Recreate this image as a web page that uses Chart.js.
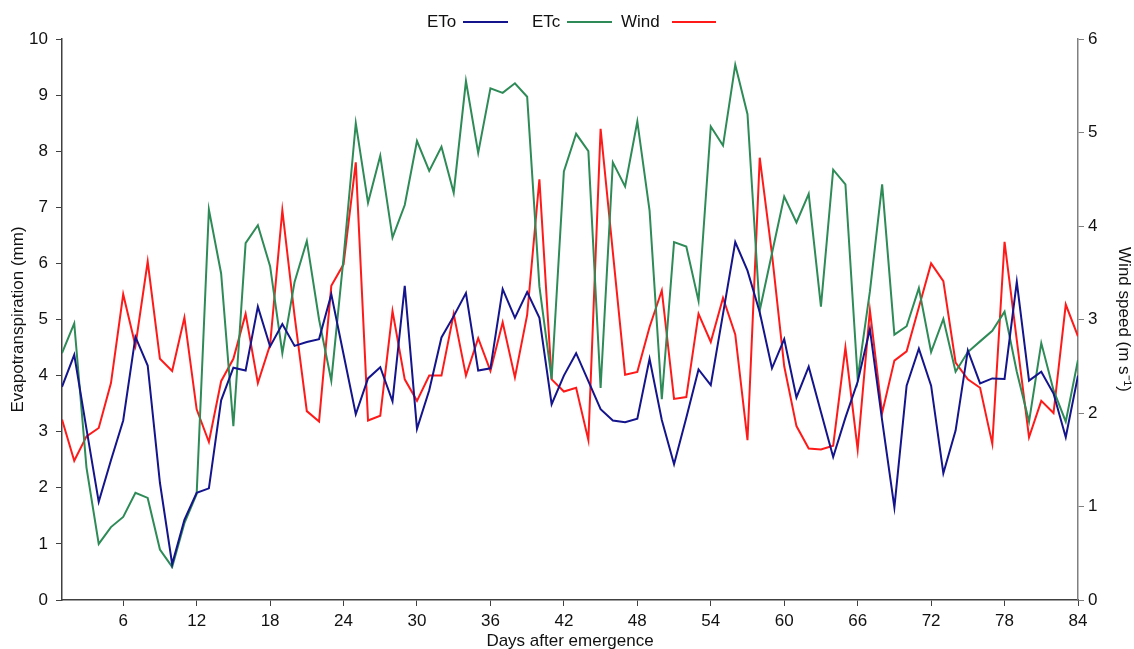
<!DOCTYPE html>
<html>
<head>
<meta charset="utf-8">
<script src="https://cdn.jsdelivr.net/npm/chart.js@4"></script>
<style>
  body { margin: 0; background: #fff; }
  #wrap { width: 1134px; height: 649px; }
</style>
</head>
<body>
<div id="wrap"><canvas id="grafico" width="1134" height="649"></canvas></div>
<script>
// dados
const dias = [1, 2, 3, 4, 5, 6, 7, 8, 9, 10, 11, 12, 13, 14, 15, 16, 17, 18, 19, 20, 21,
  22, 23, 24, 25, 26, 27, 28, 29, 30, 31, 32, 33, 34, 35, 36, 37, 38, 39, 40, 41, 42,
  43, 44, 45, 46, 47, 48, 49, 50, 51, 52, 53, 54, 55, 56, 57, 58, 59, 60, 61, 62, 63,
  64, 65, 66, 67, 68, 69, 70, 71, 72, 73, 74, 75, 76, 77, 78, 79, 80, 81, 82, 83, 84];

const eto = [3.80, 4.37, 3.05, 1.75, 2.49, 3.20, 4.69, 4.18, 2.09, 0.64, 1.43, 1.91, 1.99, 3.56,
  4.14, 4.09, 5.23, 4.52, 4.92, 4.53, 4.60, 4.65, 5.45, 4.38, 3.31, 3.95, 4.15, 3.54,
  5.60, 3.05, 3.74, 4.68, 5.06, 5.47, 4.09, 4.13, 5.54, 5.03, 5.49, 5.03, 3.49, 4.00,
  4.40, 3.90, 3.40, 3.20, 3.17, 3.23, 4.30, 3.21, 2.42, 3.25, 4.11, 3.83, 5.10, 6.38,
  5.87, 5.13, 4.13, 4.65, 3.61, 4.16, 3.35, 2.55, 3.25, 3.89, 4.83, 3.20, 1.65, 3.82,
  4.48, 3.82, 2.26, 3.02, 4.45, 3.86, 3.95, 3.94, 5.67, 3.91, 4.07, 3.68, 2.90, 4.00];

const etc = [4.40, 4.93, 2.36, 1.00, 1.30, 1.48, 1.91, 1.82, 0.90, 0.59, 1.37, 1.89, 6.96, 5.82,
  3.10, 6.36, 6.68, 5.95, 4.40, 5.67, 6.40, 5.00, 3.91, 6.10, 8.50, 7.08, 7.92, 6.46,
  7.04, 8.18, 7.65, 8.08, 7.26, 9.25, 7.97, 9.12, 9.04, 9.21, 8.97, 5.59, 3.94, 7.64,
  8.31, 8.00, 3.78, 7.80, 7.37, 8.53, 6.94, 3.58, 6.38, 6.30, 5.33, 8.44, 8.10, 9.54,
  8.66, 5.16, 6.18, 7.19, 6.73, 7.24, 5.23, 7.67, 7.41, 3.95, 5.50, 7.41, 4.73, 4.88,
  5.56, 4.42, 5.01, 4.07, 4.42, 4.61, 4.80, 5.14, 4.07, 3.18, 4.58, 3.74, 3.18, 4.28];

const vento = [1.93, 1.49, 1.75, 1.84, 2.32, 3.27, 2.72, 3.62, 2.58, 2.45, 3.02, 2.04, 1.69, 2.34,
  2.58, 3.06, 2.32, 2.73, 4.17, 3.04, 2.02, 1.91, 3.36, 3.59, 4.68, 1.92, 1.97, 3.09,
  2.36, 2.13, 2.40, 2.40, 3.06, 2.40, 2.80, 2.45, 2.97, 2.38, 3.05, 4.50, 2.36, 2.23,
  2.27, 1.71, 5.04, 3.72, 2.41, 2.44, 2.92, 3.31, 2.15, 2.17, 3.06, 2.76, 3.23, 2.84,
  1.71, 4.73, 3.70, 2.50, 1.86, 1.62, 1.61, 1.65, 2.70, 1.61, 3.10, 2.00, 2.56, 2.66,
  3.13, 3.60, 3.41, 2.54, 2.36, 2.27, 1.67, 3.83, 2.78, 1.74, 2.13, 2.00, 3.16, 2.82];

const ticksX = [6, 12, 18, 24, 30, 36, 42, 48, 54, 60, 66, 72, 78, 84];

const fonte = { family: "'Liberation Sans', Arial, sans-serif", size: 17 };

function pontos(valores) {
  return dias.map((d, i) => ({ x: d, y: valores[i] }));
}

// legenda: texto antes da linha
const legendaLinha = {
  id: "legendaLinha",
  afterDraw(chart) {
    const ctx = chart.ctx;
    const itens = [
      { texto: "ETo", x: 427, x1: 463, x2: 508, cor: "#14148c" },
      { texto: "ETc", x: 532, x1: 567, x2: 612, cor: "#2e8b57" },
      { texto: "Wind", x: 621, x1: 672, x2: 716, cor: "#ff1a1a" }
    ];
    ctx.save();
    ctx.font = "17px 'Liberation Sans', Arial, sans-serif";
    ctx.textBaseline = "middle";
    ctx.fillStyle = "#111";
    itens.forEach((it) => {
      ctx.fillText(it.texto, it.x, 22);
      ctx.strokeStyle = it.cor;
      ctx.lineWidth = 2;
      ctx.beginPath();
      ctx.moveTo(it.x1, 22);
      ctx.lineTo(it.x2, 22);
      ctx.stroke();
    });
    ctx.restore();
  }
};

const ctx = document.getElementById("grafico").getContext("2d");
new Chart(ctx, {
  type: "line",
  data: {
    datasets: [
      { label: "ETo", data: pontos(eto), borderColor: "#14148c", borderWidth: 2, yAxisID: "y" },
      { label: "ETc", data: pontos(etc), borderColor: "#2e8b57", borderWidth: 2, yAxisID: "y" },
      { label: "Wind", data: pontos(vento), borderColor: "#ff1a1a", borderWidth: 2, yAxisID: "y2" }
    ]
  },
  options: {
    responsive: false,
    animation: false,
    layout: { padding: { top: 39 } },
    elements: { point: { radius: 0 }, line: { tension: 0 } },
    plugins: { legend: { display: false }, tooltip: { enabled: false } },
    scales: {
      x: {
        type: "linear",
        min: 1,
        max: 84,
        afterBuildTicks: (s) => { s.ticks = ticksX.map((v) => ({ value: v })); },
        afterFit: (s) => { s.height = 49; },
        grid: { drawOnChartArea: false, tickLength: 6, color: "#404040" },
        border: { color: "#404040", width: 1.5 },
        ticks: { font: fonte, color: "#111", padding: 5, maxRotation: 0 },
        title: { display: true, text: "Days after emergence", font: fonte, color: "#111", padding: { top: 0, bottom: -3 } }
      },
      y: {
        position: "left",
        min: 0,
        max: 10,
        afterFit: (s) => { s.width = 62; },
        grid: { drawOnChartArea: false, tickLength: 6, color: "#404040" },
        border: { color: "#404040", width: 1.5 },
        ticks: { stepSize: 1, font: fonte, color: "#111", padding: 8 },
        title: { display: true, text: "Evapotranspiration (mm)", font: fonte, color: "#111", padding: { top: 8, bottom: 0 } }
      },
      y2: {
        position: "right",
        min: 0,
        max: 6,
        afterFit: (s) => { s.width = 56; },
        grid: { drawOnChartArea: false, tickLength: 6, color: "#808080" },
        border: { color: "#808080", width: 1.5 },
        ticks: { stepSize: 1, font: fonte, color: "#111", padding: 4 },
        title: { display: true, text: "Wind speed (m s⁻¹)", font: fonte, color: "#111", padding: 0 }
      }
    }
  },
  plugins: [legendaLinha]
});
</script>
</body>
</html>
